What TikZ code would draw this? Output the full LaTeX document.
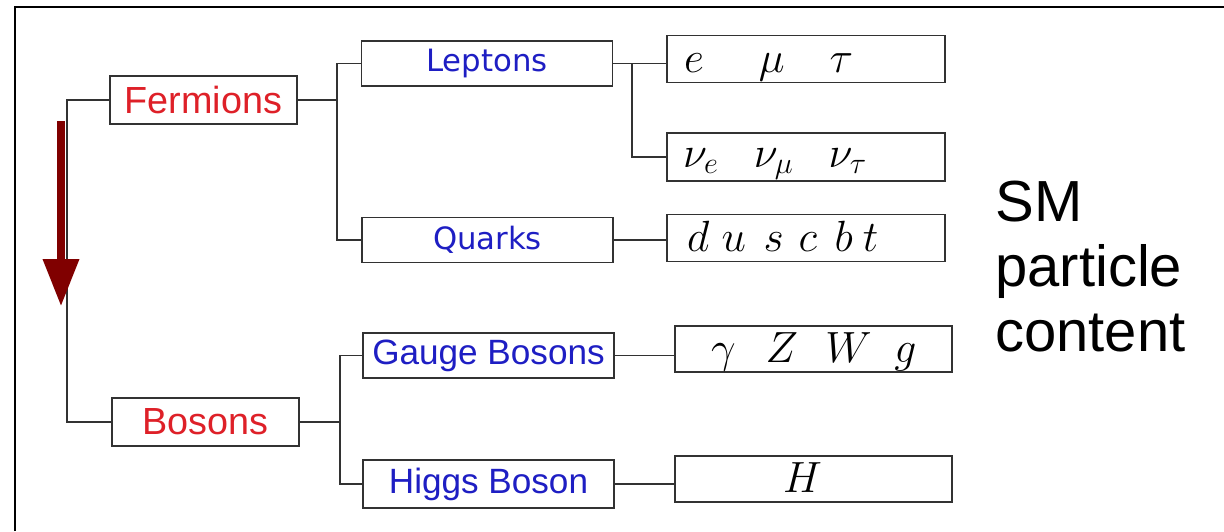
\documentclass[tikz,border=0pt]{standalone}
\usepackage{fontspec}
\setmainfont{Liberation Sans}
\newfontfamily\labelfont{DejaVu Sans}
\usetikzlibrary{arrows.meta,positioning}
\definecolor{fermred}{RGB}{222,32,40}
\definecolor{classblue}{RGB}{30,30,195}
\definecolor{arrowred}{RGB}{128,0,0}
\definecolor{treegray}{RGB}{50,50,50}

\begin{document}
\begin{tikzpicture}[x=0.02cm,y=-0.02cm,>=Latex,
  catbox/.style={draw=treegray,line width=1pt,minimum width=3.74cm,minimum height=.96cm,inner sep=0pt,text=fermred,font=\fontsize{21.5}{24}\selectfont},
  typebox/.style={draw=treegray,line width=1pt,minimum width=5.02cm,minimum height=.9cm,inner sep=0pt,text=classblue},
  symbox/.style={draw=treegray,line width=1pt,text height=.74cm,text depth=.2cm,text width=5.56cm,inner sep=0pt,align=left,font=\fontsize{25}{28}\selectfont},
  tree/.style={treegray,line width=1pt}]
\useasboundingbox (0,0) rectangle (1224,531);
\draw[line width=1pt] (15,531) -- (15,7) -- (1224,7);

\node[catbox] (fermions) at (203.5,100) {Fermions};
\node[catbox] (bosons) at (205.5,422) {Bosons};

\node[typebox,font=\labelfont\fontsize{17.5}{20}\selectfont] (leptons) at (487,63.5) {Leptons};
\node[typebox,font=\labelfont\fontsize{17.5}{20}\selectfont] (quarks) at (487.5,240) {Quarks};
\node[typebox,font=\fontsize{20}{24}\selectfont] (gauge) at (488.5,355.5) {Gauge Bosons};
\node[typebox,font=\fontsize{20}{24}\selectfont,minimum height=.96cm] (higgs) at (488.5,484) {Higgs Boson};

\node[symbox] (charged) at (806,59) {\hspace*{.34cm}$e\hspace{1.1cm}\mu\hspace{.9cm}\tau$};
\node[symbox,text height=.68cm,text depth=.28cm] (neutral) at (806,157) {\hspace*{.32cm}$\nu_e\hspace{.7cm}\nu_\mu\hspace{.7cm}\nu_\tau$};
\node[symbox] (flavours) at (806,238) {\hspace*{.4cm}$d\hspace{.25cm}u\hspace{.35cm}s\hspace{.3cm}c\hspace{.35cm}b\hspace{.2cm}t$};
\node[symbox,text height=.72cm,text width=5.54cm] (carriers) at (813.5,349) {\hspace*{.72cm}$\gamma\hspace{.6cm}Z\hspace{.55cm}W\hspace{.45cm}g$};
\node[symbox,text height=.72cm,text width=5.54cm] (scalar) at (813.5,479) {\hspace*{2.16cm}$H$};

% tree
\coordinate (leftsplit) at (67,260);
\coordinate (fermsplit) at (337,100);
\coordinate (lepsplit) at (632,63.5);
\coordinate (bossplit) at (340,422);
\draw[tree] (fermions.west) -| (leftsplit) |- (bosons.west);
\draw[tree] (fermions.east) -- (fermsplit);
\draw[tree] (leptons.west) -| (fermsplit) |- (quarks.west);
\draw[tree] (leptons.east) -- (leptons.east -| charged.west);
\draw[tree] (lepsplit) |- (neutral.west);
\draw[tree] (quarks.east) -- (quarks.east -| flavours.west);
\draw[tree] (bosons.east) -- (bossplit);
\draw[tree] (gauge.west) -| (bossplit) |- (higgs.west);
\draw[tree] (gauge.east) -- (gauge.east -| carriers.west);
\draw[tree] (higgs.east) -- (higgs.east -| scalar.west);

% order arrow
\coordinate (arrowtop) at (61,121);
\coordinate (arrowend) at (61,306);
\draw[arrowred,line width=4pt,-{Triangle[width=.7cm,length=.94cm]}] (arrowtop) -- (arrowend);

\node[anchor=north west,inner sep=0pt,align=left,font=\fontsize{33}{37}\selectfont] (title) at (995,181) {SM\\particle\\content};
\end{tikzpicture}
\end{document}
